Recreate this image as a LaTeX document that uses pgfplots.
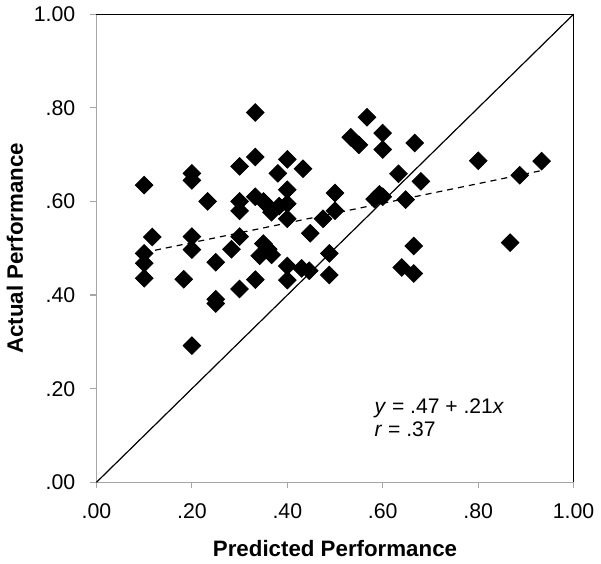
\documentclass[border=0pt]{standalone}
\usepackage{pgfplots}
\pgfplotsset{compat=1.18}
\usepackage{fontspec}
\setmainfont{Liberation Sans}

\pgfplotstableread{
x y
.333 .790
.333 .695
.300 .675
.400 .690
.433 .670
.380 .660
.200 .660
.200 .645
.100 .635
.233 .600
.300 .600
.300 .580
.333 .610
.350 .600
.360 .590
.367 .577
.383 .590
.400 .625
.400 .595
.400 .563
.500 .618
.500 .580
.475 .563
.448 .532
.300 .525
.350 .510
.360 .498
.342 .484
.367 .486
.283 .498
.250 .470
.200 .525
.200 .497
.117 .524
.100 .489
.100 .468
.100 .436
.183 .434
.300 .413
.333 .433
.400 .462
.430 .457
.446 .452
.488 .489
.488 .443
.400 .432
.250 .391
.250 .382
.200 .292
.567 .780
.533 .737
.550 .721
.600 .746
.600 .711
.667 .725
.800 .687
.933 .686
.887 .656
.633 .659
.680 .643
.583 .605
.593 .615
.600 .610
.648 .604
.665 .505
.640 .459
.665 .446
.867 .512
}\points

\begin{document}
\begin{tikzpicture}
\begin{axis}[
  scale only axis,
  width=237.5pt, height=233pt,
  xmin=0, xmax=1, ymin=0, ymax=1,
  axis x line*=bottom, axis y line*=left,
  axis line style={gray!70, line width=0.6pt},
  xtick={0,0.2,0.4,0.6,0.8,1},
  ytick={0,0.2,0.4,0.6,0.8,1},
  xticklabels={.00,.20,.40,.60,.80,1.00},
  yticklabels={.00,.20,.40,.60,.80,1.00},
  tick align=outside,
  major tick length=3pt,
  tick style={gray!70, line width=0.6pt},
  ticklabel style={font=\fontsize{10.6}{12}\selectfont},
  xticklabel style={yshift=-4pt},
  yticklabel style={xshift=-4pt},
  xlabel={\bfseries Predicted Performance},
  ylabel={\bfseries Actual Performance},
  label style={font=\fontsize{11.1}{13}\selectfont},
  xlabel style={yshift=-4pt},
  ylabel style={yshift=-1.5pt},
  clip=false,
]
\draw[black, line width=0.6pt] (rel axis cs:0,1) -- (rel axis cs:1,1) -- (rel axis cs:1,0);
\addplot[black, line width=0.6pt] coordinates {(0,0) (1,1)};
\addplot[only marks, mark=square*, mark size=3.1pt,
  mark options={rotate=45, fill=black, draw=black}] table[x=x, y=y] {\points};
\addplot[black, dashed, line width=0.6pt, dash pattern=on 3pt off 2.5pt] coordinates {(0.10,0.491) (0.933,0.666)};
\node[anchor=west, font=\fontsize{10.5}{12}\selectfont, align=left] at (axis cs:0.568,0.137)
  {\textit{y} = .47 + .21\textit{x}\\[-0.5pt] \textit{r} = .37};
\end{axis}
\end{tikzpicture}
\end{document}
